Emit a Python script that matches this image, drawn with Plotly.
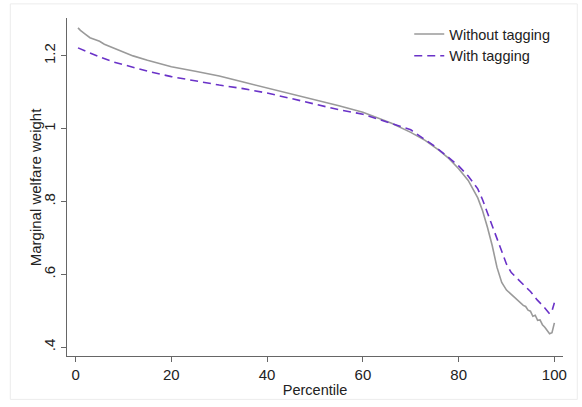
import plotly.graph_objects as go

# Without tagging (solid gray)
pct_without = [0.5, 1, 2, 3, 4, 5, 6, 8, 10, 12, 15, 20, 25, 30, 35, 40, 45, 50, 55, 60,
               63, 66, 70, 73, 76, 78, 80, 82, 84, 85, 86, 87, 88, 89, 90, 91, 92, 93,
               93.5, 94, 94.5, 95, 95.5, 96, 96.5, 97, 97.5, 98, 98.5, 99, 99.5, 100]
w_without = [1.277, 1.27, 1.26, 1.25, 1.245, 1.24, 1.232, 1.222, 1.212, 1.2, 1.188, 1.170,
             1.158, 1.145, 1.128, 1.112, 1.097, 1.081, 1.063, 1.045, 1.03, 1.015, 0.99,
             0.968, 0.94, 0.918, 0.89, 0.858, 0.81, 0.775, 0.73, 0.68, 0.62, 0.578, 0.557,
             0.545, 0.533, 0.522, 0.515, 0.512, 0.502, 0.499, 0.485, 0.488, 0.474, 0.475,
             0.462, 0.455, 0.445, 0.437, 0.440, 0.467]

# With tagging (purple dashed)
pct_with = [0.5, 2, 5, 8, 10, 15, 20, 25, 30, 35, 40, 45, 50, 55, 60, 65, 70, 73, 75, 78,
            80, 82, 84, 85, 86, 87, 88, 89, 90, 91, 92, 93, 95, 96.4, 97, 98, 99, 99.5, 100]
w_with = [1.222, 1.213, 1.197, 1.183, 1.176, 1.158, 1.143, 1.131, 1.12, 1.11, 1.098, 1.083,
          1.068, 1.052, 1.040, 1.018, 0.997, 0.970, 0.952, 0.92, 0.898, 0.87, 0.835, 0.805,
          0.77, 0.735, 0.695, 0.66, 0.628, 0.605, 0.592, 0.58, 0.553, 0.53, 0.522, 0.508,
          0.492, 0.5, 0.522]

x_ticks = [0, 20, 40, 60, 80, 100]
y_ticks = [0.4, 0.6, 0.8, 1.0, 1.2]
y_tick_labels = [".4", ".6", ".8", "1", "1.2"]

FONT = "Liberation Sans, Arial, sans-serif"

fig = go.Figure()
fig.add_trace(go.Scatter(x=pct_without, y=w_without, mode="lines", name="Without tagging",
                         line=dict(color="#9a9a9a", width=1.6)))
fig.add_trace(go.Scatter(x=pct_with, y=w_with, mode="lines", name="With tagging",
                         line=dict(color="#6a32c8", width=1.6, dash="8px,5px")))

fig.update_layout(
    width=582, height=407,
    margin=dict(l=67, r=19, t=18, b=46),
    paper_bgcolor="white", plot_bgcolor="white",
    font=dict(family=FONT, size=14, color="#222"),
    showlegend=True,
    legend=dict(x=0.69, y=1.0, xanchor="left", yanchor="top",
                bgcolor="rgba(0,0,0,0)", font=dict(size=14.5, family=FONT, color="#222"),
                tracegroupgap=0, itemwidth=30),
    xaxis=dict(range=[-1.8, 101.8], tickmode="array", tickvals=x_ticks,
               ticks="outside", ticklen=5, tickcolor="#666", tickwidth=1,
               showline=True, linecolor="#666", linewidth=1.2, showgrid=False, zeroline=False,
               tickfont=dict(size=15, family=FONT, color="#222"),
               title=dict(text="Percentile", font=dict(size=14.5, family=FONT, color="#222"),
                          standoff=2)),
    yaxis=dict(range=[0.376, 1.304], tickmode="array", tickvals=y_ticks,
               ticktext=y_tick_labels, tickangle=-90,
               ticks="outside", ticklen=5, tickcolor="#666", tickwidth=1,
               showline=True, linecolor="#666", linewidth=1.2, showgrid=False, zeroline=False,
               tickfont=dict(size=15, family=FONT, color="#222")),
    annotations=[dict(text="Marginal welfare weight", xref="paper", yref="paper",
                      x=-0.064, y=0.5, xanchor="center", yanchor="middle", textangle=-90,
                      showarrow=False, font=dict(size=15, family=FONT, color="#222"))],
    shapes=[dict(type="rect", xref="paper", yref="paper", x0=-0.1143, x1=1.0288,
                 y0=-0.1284, y1=1.0417, line=dict(color="#ececec", width=1), layer="below")],
)

fig.write_html("out.html")
